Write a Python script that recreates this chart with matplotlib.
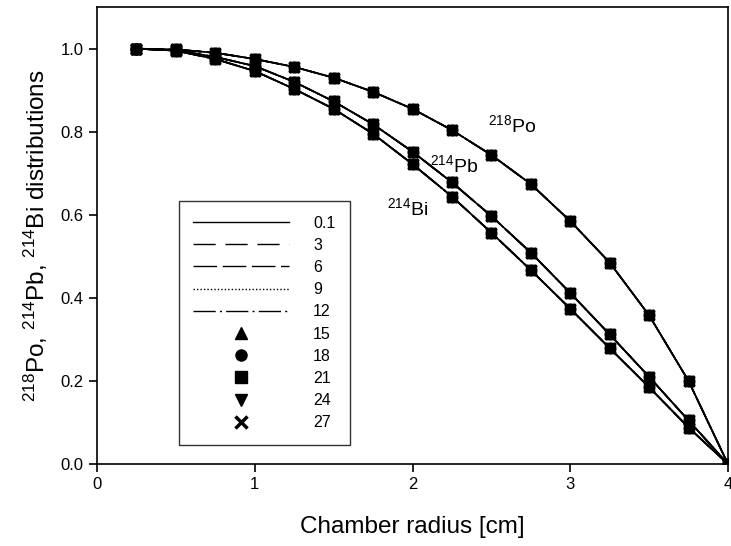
import matplotlib
matplotlib.use("Agg")
import matplotlib.pyplot as plt

plt.rcParams["font.family"] = ["Liberation Sans", "DejaVu Sans"]
plt.rcParams["mathtext.fontset"] = "custom"
plt.rcParams["mathtext.rm"] = "Liberation Sans"
plt.rcParams["mathtext.default"] = "regular"

radius = [0.25, 0.5, 0.75, 1.0, 1.25, 1.5, 1.75, 2.0, 2.25, 2.5, 2.75, 3.0, 3.25, 3.5, 3.75, 4.0]
po218 = [1.0, 0.998, 0.99, 0.975, 0.956, 0.93, 0.896, 0.855, 0.804, 0.744, 0.674, 0.585, 0.485, 0.358, 0.2, 0.0]
pb214 = [1.0, 0.996, 0.98, 0.958, 0.92, 0.873, 0.818, 0.752, 0.678, 0.597, 0.509, 0.412, 0.312, 0.21, 0.105, 0.0]
bi214 = [1.0, 0.995, 0.975, 0.946, 0.903, 0.855, 0.795, 0.722, 0.644, 0.557, 0.467, 0.374, 0.279, 0.185, 0.088, 0.0]

line_labels = ["0.1", "3", "6", "9", "12"]
line_styles = ["-", (0, (16, 7)), (0, (17, 4)), (0, (1, 1.5)), (0, (16, 3, 1.5, 3))]
marker_labels = ["15", "18", "21", "24", "27"]
marker_styles = ["^", "o", "s", "v", "x"]

fig = plt.figure(figsize=(7.31, 5.46), dpi=100)
ax = fig.add_axes([0.1327, 0.150, 0.8632, 0.837])

for curve in (po218, pb214, bi214):
    for ls in line_styles:
        ax.plot(radius, curve, color="black", linestyle=ls, linewidth=1.2)
    for m in marker_styles:
        ax.plot(radius, curve, color="black", linestyle="none", marker=m,
                markersize=7.5, markeredgewidth=2.2 if m == "x" else 1)

handles = []
for ls, lab in zip(line_styles, line_labels):
    h, = ax.plot([], [], color="black", linestyle=ls, linewidth=1.0, label=lab)
    handles.append(h)
for m, lab in zip(marker_styles, marker_labels):
    h, = ax.plot([], [], color="black", linestyle="none", marker=m, markersize=8,
                 markeredgewidth=2.5 if m == "x" else 1, label=lab)
    handles.append(h)

leg = ax.legend(handles=handles, loc="upper left", bbox_to_anchor=(0.130, 0.575),
                frameon=True, fancybox=False, edgecolor="black", fontsize=11.5,
                handlelength=6.0, handletextpad=1.5, labelspacing=0.45,
                borderpad=0.9, borderaxespad=0)
leg.get_frame().set_linewidth(1.0)

ax.text(2.48, 0.80, r"$^{218}$Po", fontsize=14)
ax.text(2.11, 0.703, r"$^{214}$Pb", fontsize=14)
ax.text(1.84, 0.60, r"$^{214}$Bi", fontsize=14)

ax.set_xlim(0, 4)
ax.set_ylim(0, 1.1)
ax.set_xticks([0, 1, 2, 3, 4])
ax.set_yticks([0.0, 0.2, 0.4, 0.6, 0.8, 1.0])
ax.set_yticklabels(["0.0", "0.2", "0.4", "0.6", "0.8", "1.0"])
ax.tick_params(direction="out", length=6, width=1.2, labelsize=12)
for s in ax.spines.values():
    s.set_linewidth(1.2)

ax.set_xlabel("Chamber radius [cm]", fontsize=17.5, labelpad=17)
ax.set_ylabel(r"$^{218}$Po, $^{214}$Pb, $^{214}$Bi distributions", fontsize=17.5, labelpad=8)

fig.savefig("out.png", dpi=100)
